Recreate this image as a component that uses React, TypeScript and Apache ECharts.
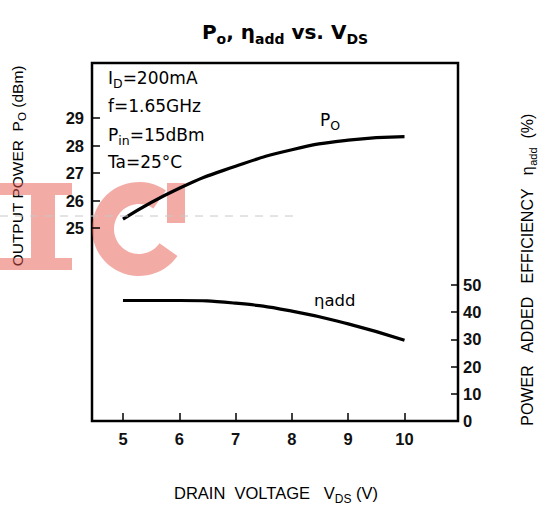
import React, { useEffect, useRef } from "react";
import * as echarts from "echarts";

const vds = [5, 6, 7, 8, 9, 10];
const poValues = [25.33, 26.45, 27.25, 27.85, 28.2, 28.33];
const etaValues = [44.3, 44.3, 43.3, 40.4, 35.7, 29.7];
const xTicks = [5, 6, 7, 8, 9, 10];
const poTicks = [25, 26, 27, 28, 29];
const etaTicks = [0, 10, 20, 30, 40, 50];
const etaTickMarks = [10, 20, 30, 40, 50];

const FONT = "'Liberation Sans', Arial, Helvetica, sans-serif";
const WIDE = "'DejaVu Sans', 'Liberation Sans', sans-serif";

function sub(fs: number, sfs: number, lh: number, bold = false, family = FONT) {
  const w = bold ? "bold" : "normal";
  return {
    n: { fontSize: fs, fontFamily: family, fontWeight: w, color: "#111", lineHeight: lh },
    s: { fontSize: sfs, fontFamily: family, fontWeight: w, color: "#111", verticalAlign: "bottom" },
  };
}

function ringPoints(cx: number, cy: number, r: number, r0: number, a0: number, a1: number) {
  const pts: number[][] = [];
  const n = 48;
  for (let i = 0; i <= n; i++) {
    const a = ((a0 + ((a1 - a0) * i) / n) * Math.PI) / 180;
    pts.push([cx + r * Math.cos(a), cy + r * Math.sin(a)]);
  }
  for (let i = n; i >= 0; i--) {
    const a = ((a0 + ((a1 - a0) * i) / n) * Math.PI) / 180;
    pts.push([cx + r0 * Math.cos(a), cy + r0 * Math.sin(a)]);
  }
  return pts;
}

export default function App() {
  const ref = useRef<HTMLDivElement>(null);
  useEffect(() => {
    if (!ref.current) return;
    const chart = echarts.init(ref.current, null, { renderer: "svg" });
    const poData = vds.map((v, i) => [v, poValues[i]]);
    const etaData = vds.map((v, i) => [v, etaValues[i]]);
    const wm = "#e8584c";
    const labelStyle = {
      fontSize: 16.5,
      fontWeight: "bold",
      fontFamily: FONT,
      color: "#111",
    };
    chart.setOption({
      animation: false,
      backgroundColor: "#fff",
      grid: {
        left: 92,
        right: 83,
        top: 63,
        bottom: 96,
        show: true,
        borderColor: "#000",
        borderWidth: 2.5,
        backgroundColor: "transparent",
      },
      xAxis: {
        type: "value",
        min: 4.45,
        max: 10.95,
        axisLine: { show: false },
        splitLine: { show: false },
        axisTick: {
          show: true,
          inside: true,
          length: 8,
          lineStyle: { color: "#000", width: 1.5 },
          customValues: xTicks,
        },
        axisLabel: { customValues: xTicks, margin: 9, ...labelStyle },
      },
      yAxis: [
        {
          type: "value",
          position: "left",
          min: 18,
          max: 31,
          axisLine: { show: false },
          splitLine: { show: false },
          axisTick: {
            show: true,
            inside: true,
            length: 8,
            lineStyle: { color: "#000", width: 1.5 },
            customValues: poTicks,
          },
          axisLabel: { customValues: poTicks, margin: 8, ...labelStyle },
        },
        {
          type: "value",
          position: "right",
          min: 0,
          max: 131.6,
          axisLine: { show: false },
          splitLine: { show: false },
          axisTick: {
            show: true,
            inside: true,
            length: 7,
            lineStyle: { color: "#000", width: 1.5 },
            customValues: etaTickMarks,
          },
          axisLabel: { customValues: etaTicks, margin: 5, ...labelStyle },
        },
      ],
      series: [
        {
          type: "line",
          name: "Po",
          yAxisIndex: 0,
          data: poData,
          smooth: 0.5,
          showSymbol: false,
          lineStyle: { color: "#000", width: 3.2 },
        },
        {
          type: "line",
          name: "eta",
          yAxisIndex: 1,
          data: etaData,
          smooth: 0.5,
          showSymbol: false,
          lineStyle: { color: "#000", width: 3.2 },
        },
      ],
      graphic: [
        {
          type: "text",
          x: 285,
          y: 32,
          style: {
            text: "{n|P}{s|o}{n|, η}{s|add}{n| vs. V}{s|DS}",
            rich: sub(20, 14, 28, true, WIDE),
            align: "center",
            verticalAlign: "middle",
          },
        },
        {
          type: "text",
          x: 108,
          y: 78,
          style: { text: "{n|I}{s|D}{n|=200mA}", rich: sub(17, 12.5, 24, false, WIDE), verticalAlign: "middle" },
        },
        {
          type: "text",
          x: 108,
          y: 106,
          style: { text: "{n|f=1.65GHz}", rich: sub(17, 12.5, 24, false, WIDE), verticalAlign: "middle" },
        },
        {
          type: "text",
          x: 108,
          y: 135,
          style: { text: "{n|P}{s|in}{n|=15dBm}", rich: sub(17, 12.5, 24, false, WIDE), verticalAlign: "middle" },
        },
        {
          type: "text",
          x: 108,
          y: 162,
          style: { text: "{n|Ta=25°C}", rich: sub(17, 12.5, 24, false, WIDE), verticalAlign: "middle" },
        },
        {
          type: "text",
          x: 320,
          y: 120,
          style: { text: "{n|P}{s|O}", rich: sub(17, 12.5, 24, false, WIDE), verticalAlign: "middle" },
        },
        {
          type: "text",
          x: 314,
          y: 300,
          style: { text: "{n|ηadd}", rich: sub(16.5, 12, 24, false, WIDE), verticalAlign: "middle" },
        },
        {
          type: "text",
          x: 276,
          y: 493,
          style: {
            text: "{n|DRAIN  VOLTAGE   V}{s|DS}{n| (V)}",
            rich: sub(16.5, 12, 24),
            align: "center",
            verticalAlign: "middle",
          },
        },
        {
          type: "text",
          x: 17,
          y: 166,
          rotation: Math.PI / 2,
          style: {
            text: "{n|OUTPUT POWER  P}{s|O}{n| (dBm)}",
            rich: sub(15.5, 11.5, 22),
            align: "center",
            verticalAlign: "middle",
          },
        },
        {
          type: "text",
          x: 527,
          y: 270,
          rotation: Math.PI / 2,
          style: {
            text: "{n|POWER   ADDED   EFFICIENCY   η}{s|add}{n|  (%)}",
            rich: sub(16, 11, 22),
            align: "center",
            verticalAlign: "middle",
          },
        },
        {
          type: "line",
          z: 90,
          shape: { x1: 0, y1: 216, x2: 295, y2: 216 },
          style: { stroke: "#c8c8c8", lineWidth: 1, lineDash: [8, 7] },
        },
        {
          type: "group",
          z: 100,
          children: [
            { type: "rect", shape: { x: 0, y: 183, width: 72, height: 12 }, style: { fill: wm, opacity: 0.5 } },
            { type: "rect", shape: { x: 31, y: 195, width: 24, height: 63 }, style: { fill: wm, opacity: 0.5 } },
            { type: "rect", shape: { x: 0, y: 258, width: 72, height: 12 }, style: { fill: wm, opacity: 0.5 } },
            {
              type: "polygon",
              shape: { points: ringPoints(139, 229, 47, 25, 35, 305) },
              style: { fill: wm, opacity: 0.5 },
            },
            { type: "rect", shape: { x: 167, y: 183, width: 18, height: 40 }, style: { fill: wm, opacity: 0.5 } },
          ],
        },
      ],
    });
    return () => chart.dispose();
  }, []);
  return (
    <div
      ref={ref}
      style={{ position: "fixed", left: 0, top: 0, width: 541, height: 517, background: "#fff" }}
    />
  );
}
